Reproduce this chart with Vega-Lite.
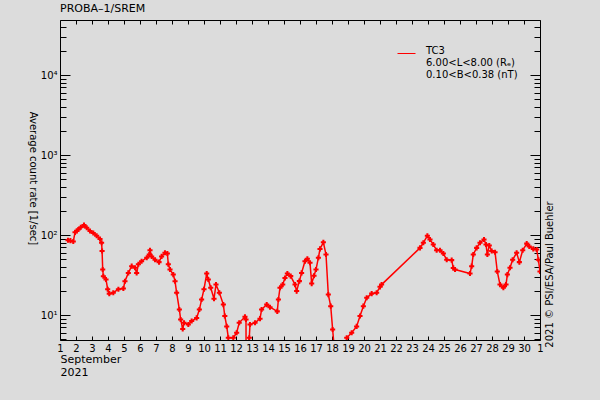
{
  "$schema": "https://vega.github.io/schema/vega-lite/v6.json",
  "width": 480,
  "height": 320,
  "autosize": "none",
  "padding": {"left": 60, "top": 20, "right": 60, "bottom": 60},
  "background": "#dcdcdc",
  "config": {
    "view": {"stroke": null},
    "font": "DejaVu Sans",
    "axis": {"domainColor": "black", "tickColor": "black", "labelColor": "black", "titleColor": "black", "grid": false, "titleFontWeight": "normal", "tickWidth": 1, "domainWidth": 1}
  },
  "title": {"text": "PROBA–1/SREM", "anchor": "start", "fontSize": 11, "fontWeight": "normal", "offset": 6, "color": "black", "frame": "group"},
  "data": {"values": [
    {"d": 1.50, "v": 86}, {"d": 1.65, "v": 85}, {"d": 1.83, "v": 83}, {"d": 1.94, "v": 108}, {"d": 2.05, "v": 112},
    {"d": 2.14, "v": 117}, {"d": 2.3, "v": 125}, {"d": 2.5, "v": 133}, {"d": 2.67, "v": 123}, {"d": 2.875, "v": 112},
    {"d": 3.08, "v": 106}, {"d": 3.29, "v": 98}, {"d": 3.5, "v": 89}, {"d": 3.6, "v": 80}, {"d": 3.63, "v": 63},
    {"d": 3.67, "v": 37}, {"d": 3.71, "v": 30.5}, {"d": 3.875, "v": 27.8}, {"d": 3.98, "v": 21}, {"d": 4.08, "v": 18.5},
    {"d": 4.33, "v": 19}, {"d": 4.65, "v": 21}, {"d": 4.96, "v": 21.4}, {"d": 5.06, "v": 26.4}, {"d": 5.27, "v": 33.6},
    {"d": 5.48, "v": 40.8}, {"d": 5.69, "v": 39}, {"d": 5.79, "v": 33.6}, {"d": 5.9, "v": 43}, {"d": 6.1, "v": 47},
    {"d": 6.42, "v": 52}, {"d": 6.58, "v": 57}, {"d": 6.625, "v": 64.5}, {"d": 6.73, "v": 54}, {"d": 6.94, "v": 49},
    {"d": 7.19, "v": 45.8}, {"d": 7.35, "v": 54}, {"d": 7.56, "v": 60}, {"d": 7.71, "v": 58.6}, {"d": 7.77, "v": 43},
    {"d": 7.875, "v": 37}, {"d": 8.08, "v": 32}, {"d": 8.19, "v": 26.4}, {"d": 8.29, "v": 19}, {"d": 8.46, "v": 11.7},
    {"d": 8.54, "v": 8.8}, {"d": 8.67, "v": 6.7}, {"d": 8.75, "v": 8}, {"d": 9.02, "v": 7.6}, {"d": 9.23, "v": 8.4},
    {"d": 9.54, "v": 9.2}, {"d": 9.71, "v": 11.7}, {"d": 9.85, "v": 15.6}, {"d": 10.0, "v": 21}, {"d": 10.17, "v": 33},
    {"d": 10.27, "v": 27.8}, {"d": 10.42, "v": 21.9}, {"d": 10.625, "v": 16}, {"d": 10.75, "v": 24}, {"d": 10.96, "v": 19},
    {"d": 11.21, "v": 13.5}, {"d": 11.3, "v": 9.7}, {"d": 11.42, "v": 7.2}, {"d": 11.52, "v": 5.2}, {"d": 11.83, "v": 5.2},
    {"d": 12.04, "v": 6}, {"d": 12.2, "v": 8}, {"d": 12.56, "v": 9.5}, {"d": 12.625, "v": 8.8}, {"d": 12.63, "v": 3},
    {"d": 12.83, "v": 5.2}, {"d": 12.875, "v": 7.6}, {"d": 13.19, "v": 8}, {"d": 13.5, "v": 9}, {"d": 13.6, "v": 11.7},
    {"d": 13.92, "v": 13.5}, {"d": 14.125, "v": 12.5}, {"d": 14.58, "v": 11.1}, {"d": 14.65, "v": 15.6}, {"d": 14.75, "v": 21.9},
    {"d": 14.92, "v": 24}, {"d": 15.06, "v": 29}, {"d": 15.21, "v": 33}, {"d": 15.42, "v": 30.6}, {"d": 15.69, "v": 24},
    {"d": 15.79, "v": 19.9}, {"d": 15.96, "v": 26.5}, {"d": 16.1, "v": 33.6}, {"d": 16.31, "v": 47}, {"d": 16.46, "v": 50.5},
    {"d": 16.625, "v": 45}, {"d": 16.73, "v": 24.7}, {"d": 16.875, "v": 31}, {"d": 17.0, "v": 37}, {"d": 17.15, "v": 52},
    {"d": 17.25, "v": 67}, {"d": 17.46, "v": 81}, {"d": 17.625, "v": 57}, {"d": 17.77, "v": 18}, {"d": 17.92, "v": 12.9},
    {"d": 18.04, "v": 6.6}, {"d": 18.19, "v": 3}, {"d": 18.85, "v": 3}, {"d": 18.92, "v": 5.2}, {"d": 19.23, "v": 6},
    {"d": 19.54, "v": 7.2}, {"d": 19.75, "v": 9.7}, {"d": 19.96, "v": 12.9}, {"d": 20.17, "v": 16.4}, {"d": 20.48, "v": 18.5},
    {"d": 20.79, "v": 19}, {"d": 21.0, "v": 22.5}, {"d": 21.1, "v": 24}, {"d": 23.5, "v": 69}, {"d": 23.71, "v": 80},
    {"d": 23.96, "v": 98}, {"d": 24.125, "v": 88}, {"d": 24.33, "v": 76}, {"d": 24.54, "v": 64.5}, {"d": 24.75, "v": 64.5},
    {"d": 24.96, "v": 58.6}, {"d": 25.17, "v": 49}, {"d": 25.48, "v": 48.5}, {"d": 25.58, "v": 38.8}, {"d": 25.69, "v": 37},
    {"d": 26.625, "v": 33}, {"d": 26.73, "v": 40.8}, {"d": 26.83, "v": 57}, {"d": 27.04, "v": 69}, {"d": 27.25, "v": 80},
    {"d": 27.5, "v": 88}, {"d": 27.625, "v": 76}, {"d": 27.71, "v": 57}, {"d": 27.83, "v": 74}, {"d": 27.98, "v": 63},
    {"d": 28.19, "v": 61}, {"d": 28.33, "v": 35}, {"d": 28.5, "v": 24}, {"d": 28.71, "v": 22}, {"d": 28.875, "v": 24},
    {"d": 28.96, "v": 32}, {"d": 29.125, "v": 39}, {"d": 29.29, "v": 49}, {"d": 29.54, "v": 60}, {"d": 29.71, "v": 45.8},
    {"d": 29.92, "v": 64.5}, {"d": 30.17, "v": 78}, {"d": 30.33, "v": 72}, {"d": 30.58, "v": 67}, {"d": 30.79, "v": 66},
    {"d": 30.9, "v": 49}, {"d": 31.0, "v": 35}
  ]},
  "layer": [
    {
      "mark": {"type": "line", "color": "red", "strokeWidth": 1.5, "clip": true},
      "encoding": {
        "x": {"field": "d", "type": "quantitative",
          "scale": {"domain": [1, 31], "nice": false, "zero": false},
          "axis": {"orient": "bottom", "values": [1,2,3,4,5,6,7,8,9,10,11,12,13,14,15,16,17,18,19,20,21,22,23,24,25,26,27,28,29,30,31],
            "labelExpr": "datum.value == 31 ? '1' : datum.label", "labelFlush": false, "labelOverlap": false, "labelBound": false,
            "tickSize": -4, "labelPadding": 7, "labelFontSize": 10,
            "title": ["September", "2021"], "titleFontSize": 11, "titleLineHeight": 13, "titleAnchor": "start", "titleAlign": "left",
            "titleBaseline": "alphabetic", "titleX": 0, "titleY": 22}},
        "y": {"field": "v", "type": "quantitative",
          "scale": {"type": "log", "domain": [4.87, 48700], "nice": false},
          "axis": {"orient": "left",
            "values": [5,6,7,8,9,10,20,30,40,50,60,70,80,90,100,200,300,400,500,600,700,800,900,1000,2000,3000,4000,5000,6000,7000,8000,9000,10000,20000,30000,40000],
            "labelExpr": "datum.value == 10 ? '10¹' : datum.value == 100 ? '10²' : datum.value == 1000 ? '10³' : datum.value == 10000 ? '10⁴' : ''",
            "labelOverlap": false, "labelFontSize": 10, "labelPadding": 13,
            "tickSize": {"condition": {"test": "datum.value == 10 || datum.value == 100 || datum.value == 1000 || datum.value == 10000", "value": -10}, "value": -6},
            "title": "Average count rate [1/sec]", "titleAngle": 90, "titleFontSize": 10, "titleX": -28, "titleY": 158,
            "titleAlign": "center", "titleBaseline": "middle"}},
        "stroke": {"datum": "TC3", "type": "nominal", "scale": {"range": ["red"]},
          "legend": {"orient": "none", "legendX": 337, "legendY": 24, "padding": 0, "title": null,
            "symbolType": "stroke", "symbolStrokeColor": "black", "symbolSize": 324, "symbolStrokeWidth": 1,
            "labelExpr": "['TC3', '6.00<L<8.00 (Rₑ)', '0.10<B<0.38 (nT)']", "labelFontSize": 10, "labelBaseline": "alphabetic",
            "labelOffset": 10, "labelLimit": 300, "labelColor": "black"}}
      }
    },
    {
      "mark": {"type": "point", "shape": "cross", "filled": true, "color": "red", "size": 26, "opacity": 1, "clip": true},
      "encoding": {
        "x": {"field": "d", "type": "quantitative",
          "scale": {"domain": [1, 31], "nice": false, "zero": false},
          "axis": {"orient": "top", "values": [1,2,3,4,5,6,7,8,9,10,11,12,13,14,15,16,17,18,19,20,21,22,23,24,25,26,27,28,29,30,31],
            "labels": false, "tickSize": -4, "title": null}},
        "y": {"field": "v", "type": "quantitative",
          "scale": {"type": "log", "domain": [4.87, 48700], "nice": false},
          "axis": {"orient": "right",
            "values": [5,6,7,8,9,10,20,30,40,50,60,70,80,90,100,200,300,400,500,600,700,800,900,1000,2000,3000,4000,5000,6000,7000,8000,9000,10000,20000,30000,40000],
            "labels": false,
            "tickSize": {"condition": {"test": "datum.value == 10 || datum.value == 100 || datum.value == 1000 || datum.value == 10000", "value": -10}, "value": -6},
            "title": "2021 © PSI/ESA/Paul Buehler", "titleAngle": -90, "titleFontSize": 10, "titleX": 9, "titleY": 254,
            "titleAlign": "center", "titleBaseline": "middle"}}
      }
    }
  ],
  "resolve": {"axis": {"x": "independent", "y": "independent"}}
}
